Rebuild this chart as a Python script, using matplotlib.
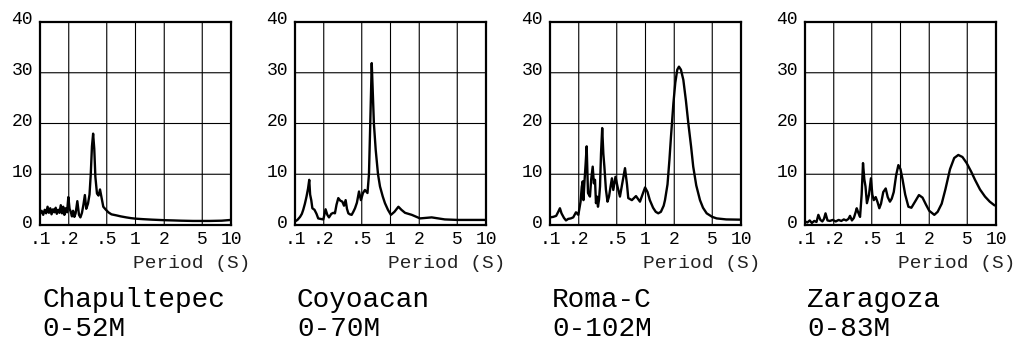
import numpy as np
import matplotlib.pyplot as plt
import matplotlib.transforms as mtransforms

plt.rcParams['font.family'] = ['Liberation Mono', 'DejaVu Sans Mono']

# response spectra, period (s) vs spectral acceleration
chap_T = [0.100, 0.104, 0.108, 0.112, 0.116, 0.120, 0.124, 0.128, 0.132, 0.137,
          0.141, 0.146, 0.150, 0.155, 0.160, 0.165, 0.170, 0.175, 0.180, 0.186,
          0.192, 0.198, 0.204, 0.210, 0.216, 0.222, 0.229, 0.236, 0.246, 0.256,
          0.265, 0.275, 0.285, 0.295, 0.305, 0.318, 0.330, 0.340, 0.350, 0.360,
          0.370, 0.380, 0.395, 0.410, 0.425, 0.440, 0.460, 0.490, 0.520, 0.560,
          0.630, 0.700, 0.800, 0.900, 1.0, 1.2, 1.5, 2.0, 2.5, 3.0,
          4.0, 5.0, 6.0, 8.0, 10.0]
chap_Sa = [2.2, 2.8, 2.0, 3.0, 2.3, 3.6, 2.4, 3.3, 2.1, 3.1,
           2.5, 3.4, 2.2, 3.0, 2.4, 3.9, 2.3, 3.6, 2.0, 3.3,
           2.5, 5.5, 3.2, 2.6, 1.7, 2.8, 1.6, 2.3, 4.7, 2.0,
           1.5, 2.4, 4.0, 5.9, 3.2, 4.2, 6.0, 10.0, 15.5, 18.0,
           15.0, 9.5, 6.2, 5.8, 7.0, 5.5, 3.6, 3.0, 2.5, 2.1,
           1.9, 1.7, 1.5, 1.35, 1.25, 1.15, 1.05, 0.95, 0.9, 0.85,
           0.8, 0.8, 0.8, 0.85, 1.0]

coyo_T = [0.100, 0.106, 0.113, 0.118, 0.122, 0.127, 0.132, 0.137, 0.141, 0.144,
          0.148, 0.152, 0.160, 0.168, 0.175, 0.185, 0.198, 0.209, 0.218, 0.227,
          0.240, 0.252, 0.262, 0.272, 0.284, 0.298, 0.313, 0.326, 0.339, 0.350,
          0.362, 0.376, 0.392, 0.408, 0.425, 0.445, 0.468, 0.490, 0.515, 0.540,
          0.574, 0.595, 0.610, 0.625, 0.636, 0.650, 0.670, 0.700, 0.740, 0.776,
          0.830, 0.875, 0.940, 1.01, 1.10, 1.21, 1.30, 1.42, 1.67, 2.04,
          2.7, 3.7, 5.0, 7.0, 10.0]
coyo_Sa = [0.7, 1.0, 1.6, 2.2, 3.0, 4.2, 5.6, 7.2, 8.9, 6.0,
           4.9, 3.3, 3.0, 2.2, 1.3, 1.2, 1.1, 3.1, 2.0, 1.5,
           2.2, 2.4, 2.3, 4.0, 5.3, 4.8, 4.6, 3.8, 4.9, 3.2,
           2.3, 2.1, 2.0, 2.6, 3.3, 4.4, 6.6, 4.9, 6.3, 6.9,
           6.3, 10.0, 18.0, 26.0, 31.9, 27.0, 20.0, 14.8, 10.0, 7.6,
           5.6, 4.3, 3.0, 2.0, 2.6, 3.6, 3.0, 2.4, 2.0, 1.3,
           1.5, 1.1, 1.0, 1.0, 1.0]

roma_T = [0.100, 0.108, 0.116, 0.122, 0.127, 0.132, 0.140, 0.147, 0.155, 0.165,
          0.175, 0.187, 0.198, 0.209, 0.215, 0.220, 0.224, 0.229, 0.236, 0.242,
          0.250, 0.262, 0.270, 0.280, 0.288, 0.296, 0.303, 0.310, 0.318, 0.326,
          0.334, 0.342, 0.352, 0.362, 0.371, 0.385, 0.400, 0.415, 0.430, 0.445,
          0.460, 0.485, 0.510, 0.540, 0.575, 0.610, 0.640, 0.660, 0.720, 0.795,
          0.875, 0.930, 0.990, 1.05, 1.11, 1.20, 1.28, 1.36, 1.45, 1.55,
          1.60, 1.70, 1.78, 1.85, 1.96, 2.05, 2.15, 2.24, 2.35, 2.49,
          2.65, 2.81, 3.0, 3.16, 3.4, 3.72, 4.0, 4.37, 5.0, 5.56,
          7.0, 10.0]
roma_Sa = [1.5, 1.6, 1.8, 2.6, 3.3, 2.3, 1.4, 0.9, 1.2, 1.3,
           1.5, 2.5, 2.0, 4.6, 7.5, 8.6, 4.9, 8.2, 12.0, 15.5,
           6.3, 5.6, 9.0, 11.5, 8.2, 8.9, 4.3, 5.6, 3.6, 5.0,
           7.6, 14.0, 19.1, 14.0, 11.5, 7.0, 4.6, 5.6, 7.5, 9.2,
           6.9, 9.5, 7.5, 5.6, 8.5, 11.2, 8.0, 5.3, 4.9, 5.7,
           4.6, 6.0, 7.4, 6.5, 4.9, 3.4, 2.6, 2.3, 2.6, 3.8,
           4.9, 8.0, 12.8, 17.5, 24.0, 28.0, 30.6, 31.2, 30.6, 28.6,
           24.5, 20.0, 15.5, 11.5, 7.8, 4.9, 3.4, 2.3, 1.6, 1.3,
           1.1, 1.05]

zara_T = [0.100, 0.106, 0.112, 0.118, 0.125, 0.132, 0.138, 0.145, 0.152, 0.158,
          0.164, 0.172, 0.182, 0.195, 0.210, 0.225, 0.240, 0.255, 0.270, 0.285,
          0.296, 0.310, 0.325, 0.340, 0.348, 0.362, 0.377, 0.392, 0.405, 0.418,
          0.430, 0.445, 0.468, 0.490, 0.507, 0.525, 0.550, 0.575, 0.600, 0.625,
          0.660, 0.700, 0.735, 0.775, 0.810, 0.850, 0.900, 0.950, 1.0, 1.05,
          1.12, 1.21, 1.30, 1.42, 1.56, 1.70, 1.85, 2.0, 2.26, 2.45,
          2.7, 2.95, 3.3, 3.65, 4.03, 4.45, 4.93, 5.5, 6.03, 6.8,
          7.67, 8.6, 9.6, 10.0]
zara_Sa = [0.7, 0.5, 0.9, 0.4, 0.8, 0.6, 2.0, 1.0, 0.7, 1.2,
           2.3, 0.9, 0.8, 1.0, 0.7, 1.0, 0.8, 1.1, 0.9, 1.2,
           1.8, 0.9, 1.4, 2.6, 3.3, 2.4, 1.6, 6.0, 12.2, 9.0,
           7.6, 4.3, 6.0, 9.2, 6.0, 4.9, 5.5, 4.5, 3.3, 4.2,
           6.5, 7.2, 5.5, 4.6, 5.2, 6.5, 9.8, 11.8, 11.0, 9.0,
           6.0, 3.6, 3.4, 4.6, 5.9, 5.4, 4.0, 2.8, 2.0, 2.6,
           4.2, 7.0, 11.0, 13.2, 13.8, 13.4, 12.2, 10.5, 8.9, 7.0,
           5.6, 4.6, 3.9, 3.8]

stations = ['Chapultepec', 'Coyoacan', 'Roma-C', 'Zaragoza']
depths = ['0-52M', '0-70M', '0-102M', '0-83M']
periods = [chap_T, coyo_T, roma_T, zara_T]
spectra = [chap_Sa, coyo_Sa, roma_Sa, zara_Sa]

xticks = [0.1, 0.2, 0.5, 1, 2, 5, 10]
xlabels = ['.1', '.2', '.5', '1', '2', '5', '10']
yticks = [0, 10, 20, 30, 40]

fig = plt.figure(figsize=(10.18, 3.47), dpi=100)
W, H = 1018, 347

for i in range(4):
    left = 40 + 255 * i
    ax = fig.add_axes([left / W, (H - 225) / H, 191 / W, 203 / H])
    ax.set_xscale('log')
    ax.set_xlim(0.1, 10)
    ax.set_ylim(0, 40)
    ax.set_xticks(xticks)
    ax.set_xticklabels(xlabels)
    ax.minorticks_off()
    ax.set_yticks(yticks)
    ax.tick_params(length=0, labelsize=13)
    ax.tick_params(axis='x', pad=4)
    ax.tick_params(axis='y', pad=5)
    for lab in ax.get_yticklabels():
        lab.set_transform(lab.get_transform() +
                          mtransforms.ScaledTranslation(0, 4 / 100, fig.dpi_scale_trans))
    for x in [0.2, 0.5, 1, 2, 5]:
        ax.axvline(x, color='black', lw=0.8, snap=False, zorder=1)
    for y in [10, 20, 30]:
        ax.axhline(y, color='black', lw=0.8, snap=False, zorder=1)
    for s in ax.spines.values():
        s.set_linewidth(1.6)
    ax.plot(periods[i], spectra[i], color='black', lw=1.7, zorder=3)

    ax.text(1.10, -0.19, 'Period (S)', transform=ax.transAxes,
            ha='right', va='center', fontsize=14, color='#222222')
    fig.text((left + 2) / W, 1 - 300 / H, stations[i], fontsize=20,
             ha='left', va='center')
    fig.text((left + 2) / W, 1 - 329 / H, depths[i], fontsize=20,
             ha='left', va='center')

fig.savefig('out.png', dpi=100)
